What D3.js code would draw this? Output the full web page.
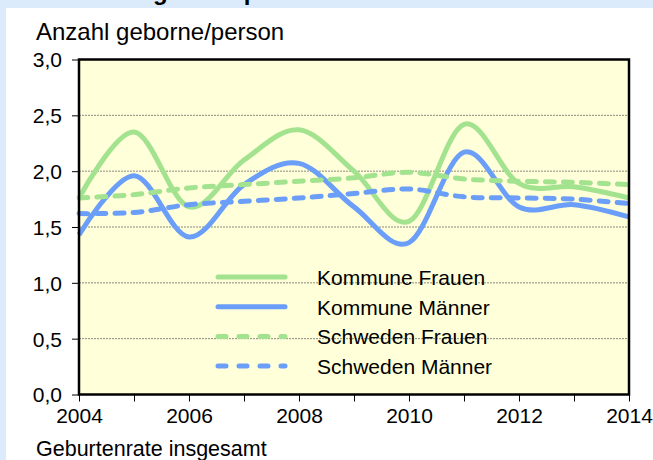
<!DOCTYPE html>
<html><head><meta charset="utf-8">
<script src="https://cdn.jsdelivr.net/npm/d3@7/dist/d3.min.js"></script>
<style>body{margin:0;background:#fff;} svg{display:block;font-family:Arial,"Liberation Sans",sans-serif;}</style>
</head><body><svg id="c" width="653" height="460"></svg>
<script>
const years = [2004,2005,2006,2007,2008,2009,2010,2011,2012,2013,2014];
const kommuneFrauen  = [1.76,2.35,1.68,2.10,2.37,2.00,1.55,2.42,1.89,1.86,1.76];
const kommuneMaenner = [1.43,1.96,1.41,1.88,2.07,1.68,1.36,2.17,1.68,1.70,1.59];
const schwedenFrauen = [1.76,1.79,1.85,1.88,1.91,1.94,1.99,1.93,1.91,1.90,1.88];
const schwedenMaenner= [1.62,1.63,1.70,1.73,1.76,1.80,1.84,1.77,1.76,1.75,1.71];
const seriesNames = ["Kommune Frauen","Kommune Männer","Schweden Frauen","Schweden Männer"];
const xTickLabels = [2004,2006,2008,2010,2012,2014];
const yTickValues = [0,0.5,1,1.5,2,2.5,3];
const titleText = "Geburten insgesamt pro Person";
const yAxisTitle = "Anzahl geborne/person";
const xAxisTitle = "Geburtenrate insgesamt";

const svg = d3.select("#c");
const W = 653, H = 460;
const m = {left:79, right:629, top:59.5, bottom:394.5};
const green = "#a3e38f", blue = "#6a9ef8";

svg.append("rect").attr("width",W).attr("height",H).attr("fill","#dcebfc");
svg.append("rect").attr("x",6).attr("y",8).attr("width",W-6).attr("height",H-8).attr("fill","#fff");
svg.append("text").attr("x",5).attr("y",0).attr("font-size",24).attr("font-weight","bold").text(titleText);

const x = d3.scaleLinear().domain([2004,2014]).range([m.left,m.right]);
const y = d3.scaleLinear().domain([0,3]).range([m.bottom,m.top]);

svg.append("rect").attr("x",m.left).attr("y",m.top).attr("width",m.right-m.left).attr("height",m.bottom-m.top).attr("fill","#ffffd9");

// gridlines
svg.append("g").selectAll("line").data(yTickValues.filter(v=>v>0&&v<3)).join("line")
  .attr("x1",m.left).attr("x2",m.right).attr("y1",d=>y(d)).attr("y2",d=>y(d))
  .attr("stroke","#8a8a80").attr("stroke-width",1).attr("stroke-dasharray","2,1");

// lines
const series = [
  {name:seriesNames[0], values:kommuneFrauen, color:green, dash:null},
  {name:seriesNames[1], values:kommuneMaenner, color:blue, dash:null},
  {name:seriesNames[2], values:schwedenFrauen, color:green, dash:"9,9"},
  {name:seriesNames[3], values:schwedenMaenner, color:blue, dash:"9,9"}
];
const line = d3.line().x((d,i)=>x(years[i])).y(d=>y(d)).curve(d3.curveCatmullRom.alpha(0));
svg.append("g").selectAll("path").data(series).join("path")
  .attr("d",d=>line(d.values)).attr("fill","none").attr("stroke",d=>d.color)
  .attr("stroke-width",5).attr("stroke-linecap",d=>d.dash?"round":"butt")
  .attr("stroke-dasharray",d=>d.dash);

// frame
svg.append("rect").attr("x",m.left).attr("y",m.top).attr("width",m.right-m.left).attr("height",m.bottom-m.top)
  .attr("fill","none").attr("stroke","#000").attr("stroke-width",2.5);

// axes
const yAxis = d3.axisLeft(y).tickValues(yTickValues).tickSize(7).tickFormat(d=>d3.format(".1f")(d).replace(".",","));
const gy = svg.append("g").attr("transform",`translate(${m.left},0)`).call(yAxis);
gy.select(".domain").remove();
gy.selectAll("line").attr("stroke","#000").attr("stroke-width",1);
gy.selectAll("text").attr("font-size",21).attr("font-family","Arial, Liberation Sans, sans-serif").attr("fill","#000").attr("x",-17).attr("dy","0.35em");

const xAxis = d3.axisBottom(x).tickValues(years).tickSize(7).tickFormat(d=>xTickLabels.includes(d)?String(d):"");
const gx = svg.append("g").attr("transform",`translate(0,${m.bottom})`).call(xAxis);
gx.select(".domain").remove();
gx.selectAll("line").attr("stroke","#000").attr("stroke-width",1);
gx.selectAll("text").attr("font-size",21).attr("font-family","Arial, Liberation Sans, sans-serif").attr("fill","#000").attr("y",14).attr("dy","0.71em");

svg.append("text").attr("x",36).attr("y",40).attr("font-size",24).text(yAxisTitle);
svg.append("text").attr("x",36).attr("y",456).attr("font-size",21.5).text(xAxisTitle);

// legend
const lg = svg.append("g").selectAll("g").data(series).join("g")
  .attr("transform",(d,i)=>`translate(216,${277+i*29.7})`);
lg.append("line").attr("x1",2).attr("x2",69).attr("stroke",d=>d.color).attr("stroke-width",5)
  .attr("stroke-linecap","round").attr("stroke-dasharray",d=>d.dash?"8,13":null);
lg.append("text").attr("x",101).attr("y",8).attr("font-size",21).text(d=>d.name);
</script></body></html>
